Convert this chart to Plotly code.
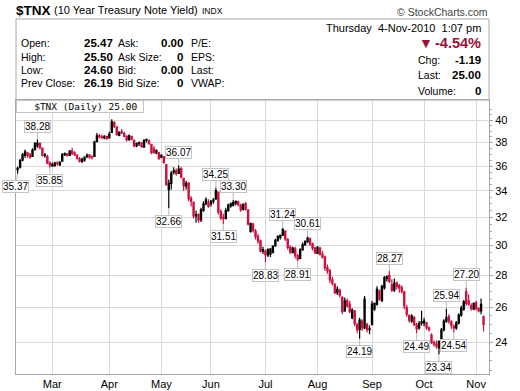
import math
import plotly.graph_objects as go

# ------------------------------------------------------------------ data
months = ["Feb", "Mar", "Apr", "May", "Jun", "Jul", "Aug", "Sep", "Oct", "Nov"]
trading_days = [
    [8, 9, 10, 11, 12, 16, 17, 18, 19, 22, 23, 24, 25, 26],
    [1, 2, 3, 4, 5, 8, 9, 10, 11, 12, 15, 16, 17, 18, 19, 22, 23, 24, 25, 26, 29, 30, 31],
    [1, 5, 6, 7, 8, 9, 12, 13, 14, 15, 16, 19, 20, 21, 22, 23, 26, 27, 28, 29, 30],
    [3, 4, 5, 6, 7, 10, 11, 12, 13, 14, 17, 18, 19, 20, 21, 24, 25, 26, 27, 28],
    [1, 2, 3, 4, 7, 8, 9, 10, 11, 14, 15, 16, 17, 18, 21, 22, 23, 24, 25, 28, 29, 30],
    [1, 2, 6, 7, 8, 9, 12, 13, 14, 15, 16, 19, 20, 21, 22, 23, 26, 27, 28, 29, 30],
    [2, 3, 4, 5, 6, 9, 10, 11, 12, 13, 16, 17, 18, 19, 20, 23, 24, 25, 26, 27, 30, 31],
    [1, 2, 3, 7, 8, 9, 10, 13, 14, 15, 16, 17, 20, 21, 22, 23, 24, 27, 28, 29, 30],
    [1, 4, 5, 6, 7, 8, 11, 12, 13, 14, 15, 18, 19, 20, 21, 22, 25, 26, 27, 28, 29],
    [1, 2, 3, 4],
]

opens = [
    35.70, 35.90, 36.50, 36.90, 37.10, 36.95, 36.80, 37.40, 37.70, 37.90, 37.50, 36.90, 36.80, 36.25,
    36.00, 36.05, 36.25, 36.10, 36.40, 36.95, 37.00, 36.90, 37.25, 37.10, 36.90, 36.60, 36.40, 36.50,
    36.80, 36.95, 36.75, 36.80, 38.10, 38.60, 38.50, 38.40, 38.55,
    38.40, 38.90, 39.80, 39.40, 38.65, 38.95, 38.80, 38.55, 38.25, 38.55, 38.20, 37.70, 37.90, 37.95,
    37.60, 38.20, 38.20, 37.85, 37.45, 37.10, 37.10,
    36.75, 36.80, 36.10, 34.10, 34.60, 35.50, 35.60, 35.40, 35.80, 35.00, 34.40, 34.60, 33.40, 33.10,
    32.10, 32.20, 31.80, 32.50, 33.00, 32.80,
    33.00, 33.20, 33.40, 33.90, 32.40, 32.00, 31.90, 32.50, 32.85, 32.90, 33.05, 33.15, 32.90, 32.60,
    33.00, 32.55, 30.95, 31.50, 31.00, 30.60, 30.30, 29.60,
    29.60, 29.35, 29.40, 29.50, 29.95, 30.35, 30.55, 30.70, 31.00, 30.40, 29.85, 29.50, 29.75, 29.30,
    29.10, 29.70, 30.05, 30.25, 30.45, 30.10, 29.80,
    29.45, 29.80, 29.40, 29.20, 28.50, 28.30, 27.70, 27.40, 26.90, 27.05, 26.60, 25.80, 26.40, 26.20,
    25.40, 25.80, 25.00, 24.70, 25.20, 24.80, 25.00, 24.70,
    25.00, 25.90, 26.20, 27.00, 26.40, 27.20, 27.80, 28.00, 27.40, 27.05, 27.50, 27.35, 27.20, 26.95,
    26.00, 25.50, 25.20, 25.40, 25.00, 24.80, 25.10,
    25.10, 25.10, 24.80, 24.40, 24.00, 23.90, 23.70, 24.10, 24.70, 25.20, 25.45, 25.15, 24.90, 24.80,
    25.10, 25.55, 25.90, 26.95, 26.40, 26.10, 25.90,
    26.30, 25.95, 25.80, 25.47,
]
highs = [
    35.95, 36.60, 37.10, 37.40, 37.20, 37.10, 37.50, 38.05, 38.28, 38.00, 37.60, 37.10, 36.95, 36.40,
    36.30, 36.35, 36.40, 36.40, 37.10, 37.15, 37.10, 37.35, 37.55, 37.25, 37.00, 36.75, 36.70, 36.80,
    37.05, 37.00, 36.90, 38.15, 38.85, 38.75, 38.70, 38.65, 38.60,
    38.95, 40.10, 39.90, 39.45, 39.00, 39.20, 38.95, 38.65, 38.70, 38.60, 38.30, 38.00, 38.10, 38.05,
    38.30, 38.35, 38.25, 37.90, 37.70, 37.40, 37.20,
    37.00, 36.85, 36.20, 34.90, 35.60, 35.90, 35.80, 36.07, 35.90, 35.05, 34.80, 34.70, 33.60, 33.20,
    32.50, 32.30, 32.70, 33.20, 33.50, 33.35,
    33.30, 33.45, 34.25, 33.95, 32.60, 32.25, 32.70, 33.00, 33.10, 33.30, 33.25, 33.25, 33.00, 33.05,
    33.15, 32.60, 31.60, 31.60, 31.15, 30.80, 30.40, 29.90,
    29.70, 29.80, 29.80, 30.00, 30.45, 30.70, 30.75, 31.24, 31.05, 30.50, 30.00, 29.90, 29.90, 29.40,
    29.80, 30.20, 30.35, 30.61, 30.55, 30.20, 29.90,
    29.95, 29.90, 29.60, 29.30, 28.70, 28.40, 27.90, 27.50, 27.30, 27.15, 26.70, 26.60, 26.55, 26.40,
    25.95, 25.85, 25.10, 25.40, 25.30, 26.70, 25.10, 24.95,
    26.40, 26.30, 27.30, 27.10, 27.40, 27.95, 28.00, 28.27, 27.75, 27.80, 27.60, 27.45, 27.35, 27.00,
    26.15, 25.60, 25.60, 25.50, 25.10, 25.20, 25.80,
    25.40, 25.15, 24.90, 24.50, 24.10, 24.10, 24.10, 24.80, 25.30, 25.94, 25.60, 25.25, 25.00, 25.20,
    25.65, 26.10, 26.45, 27.20, 26.80, 26.25, 26.30,
    26.40, 26.00, 26.55, 25.50,
]
lows = [
    35.37, 35.80, 36.40, 36.70, 36.70, 36.60, 36.80, 37.30, 37.55, 37.40, 36.80, 36.70, 36.15, 35.85,
    35.95, 35.95, 36.05, 36.00, 36.35, 36.85, 36.80, 36.85, 36.95, 36.85, 36.55, 36.30, 36.25, 36.35,
    36.65, 36.60, 36.55, 36.75, 38.00, 38.35, 38.30, 38.30, 38.25,
    38.35, 38.85, 39.30, 38.60, 38.55, 38.75, 38.50, 38.10, 38.15, 38.20, 37.60, 37.60, 37.70, 37.55,
    37.55, 38.00, 37.80, 37.00, 37.05, 37.00, 36.55,
    36.65, 36.20, 34.40, 32.66, 34.10, 35.30, 35.20, 35.35, 35.00, 34.00, 34.10, 33.20, 32.80, 31.90,
    31.60, 31.60, 31.65, 32.40, 32.90, 32.70,
    32.80, 33.00, 33.30, 32.20, 31.80, 31.51, 31.85, 32.40, 32.70, 32.80, 32.90, 32.80, 32.40, 32.50,
    32.50, 31.40, 30.90, 30.90, 30.40, 30.10, 29.50, 29.40,
    28.83, 29.20, 29.20, 29.45, 29.90, 30.25, 30.40, 30.65, 30.30, 29.70, 29.40, 29.45, 29.10, 28.91,
    29.05, 29.60, 29.95, 30.15, 29.95, 29.65, 29.40,
    29.40, 29.30, 29.10, 28.30, 28.10, 27.50, 27.35, 26.80, 26.75, 26.60, 25.60, 25.75, 26.00, 25.65,
    25.30, 24.90, 24.50, 24.19, 24.65, 24.75, 24.55, 24.45,
    24.95, 25.80, 26.10, 26.40, 26.35, 27.10, 27.60, 27.50, 26.95, 26.95, 27.10, 26.90, 26.85, 25.90,
    25.45, 25.10, 25.10, 24.90, 24.49, 24.70, 24.95,
    24.90, 24.70, 24.60, 23.90, 23.75, 23.65, 23.34, 24.00, 24.60, 25.10, 25.05, 24.75, 24.54, 24.70,
    25.00, 25.45, 25.80, 26.10, 26.10, 25.80, 25.85,
    25.80, 25.70, 25.60, 24.60,
]
closes = [
    35.80, 36.45, 36.95, 37.20, 36.90, 36.75, 37.35, 37.90, 37.95, 37.55, 36.90, 36.95, 36.25, 36.10,
    36.15, 36.25, 36.20, 36.30, 36.95, 37.05, 36.90, 37.25, 37.05, 36.95, 36.65, 36.40, 36.55, 36.75,
    36.90, 36.75, 36.70, 38.05, 38.60, 38.50, 38.45, 38.55, 38.35,
    38.75, 39.85, 39.45, 38.70, 38.90, 38.85, 38.55, 38.25, 38.60, 38.30, 37.70, 37.90, 38.00, 37.65,
    38.20, 38.25, 37.90, 37.15, 37.10, 37.30, 36.60,
    36.90, 36.30, 34.50, 34.60, 35.40, 35.60, 35.40, 35.75, 35.10, 34.40, 34.60, 33.40, 33.20, 32.10,
    32.20, 31.80, 32.55, 33.00, 33.30, 33.10,
    33.20, 33.30, 34.00, 32.40, 31.95, 31.90, 32.50, 32.90, 33.00, 33.10, 33.20, 32.95, 32.55, 32.95,
    32.60, 31.50, 31.55, 31.05, 30.60, 30.30, 29.60, 29.70,
    29.35, 29.70, 29.75, 29.95, 30.35, 30.60, 30.70, 31.10, 30.45, 29.85, 29.55, 29.80, 29.30, 29.05,
    29.70, 30.05, 30.25, 30.50, 30.10, 29.80, 29.50,
    29.85, 29.40, 29.20, 28.50, 28.30, 27.70, 27.50, 26.90, 27.10, 26.75, 25.75, 26.40, 26.10, 25.75,
    25.85, 25.05, 24.70, 25.25, 24.80, 26.50, 24.70, 24.75,
    26.20, 26.25, 27.10, 26.50, 27.30, 27.85, 27.90, 27.60, 27.05, 27.50, 27.30, 27.20, 27.00, 26.10,
    25.60, 25.25, 25.50, 25.00, 24.75, 25.05, 25.15,
    25.20, 24.80, 24.70, 24.00, 23.90, 23.80, 24.05, 24.70, 25.20, 25.40, 25.20, 24.95, 24.80, 25.10,
    25.55, 25.95, 26.35, 26.25, 26.20, 25.95, 26.25,
    25.95, 25.80, 26.19, 25.00,
]

# annotated highs / lows: (trading-day index, which end of the bar)
label_idx = [0, 8, 13, 61, 65, 80, 83, 87, 100, 107, 113, 117, 138, 150, 161, 170, 173, 176, 181]
label_end = ["low", "high", "low", "low", "high", "high", "low", "high", "low", "high", "low",
             "high", "low", "high", "low", "low", "high", "low", "high"]

y_ticks = [24, 26, 28, 30, 32, 34, 36, 38, 40]

quote_left = [("Open:", "25.47", "Ask:", "0.00", "P/E:"),
              ("High:", "25.50", "Ask Size:", "0", "EPS:"),
              ("Low:", "24.60", "Bid:", "0.00", "Last:"),
              ("Prev Close:", "26.19", "Bid Size:", "0", "VWAP:")]
quote_right = [("Chg:", "-1.19"), ("Last:", "25.00"), ("Volume:", "0")]

# ------------------------------------------------------------------ derived
month_start = []
n = 0
for m, days in enumerate(trading_days):
    month_start.append(n)
    n += len(days)

up_idx = [i for i in range(n - 1) if i == 0 or closes[i] >= closes[i - 1]]
dn_idx = [i for i in range(n - 1) if not (i == 0 or closes[i] >= closes[i - 1])]
last_idx = [n - 1]

RED = "#cc1040"
DARKRED = "#9b1035"
GRID = "#d9d9d9"
FRAME = "#a8a8a8"
FONT = "Arial, Liberation Sans"


def candles(idx, col, fill_up, fill_dn):
    return go.Candlestick(
        x=idx,
        open=[opens[i] for i in idx], high=[highs[i] for i in idx],
        low=[lows[i] for i in idx], close=[closes[i] for i in idx],
        increasing=dict(line=dict(color=col, width=1.2), fillcolor=fill_up),
        decreasing=dict(line=dict(color=col, width=1.2), fillcolor=fill_dn),
        whiskerwidth=0, showlegend=False, hoverinfo="skip",
    )


fig = go.Figure()
fig.add_trace(candles(up_idx, "#000000", "#ffffff", "#000000"))
fig.add_trace(candles(dn_idx, RED, "#ffffff", RED))
fig.add_trace(candles(last_idx, RED, "#ffff00", "#ffff00"))

# pixel -> paper helpers (plot area is 16..489 x 100..374)
PL, PR, PT, PB = 16, 489, 100, 374


def X(px):
    return (px - PL) / (PR - PL)


def Y(py):
    return (PB - py) / (PB - PT)


ann = []


def txt(px, py, s, anchor="left", size=11, bold=False, color="#000000", family=FONT):
    ann.append(dict(xref="paper", yref="paper", x=X(px), y=Y(py), text=("<b>%s</b>" % s) if bold else s,
                    showarrow=False, xanchor=anchor, yanchor="middle", borderpad=0,
                    font=dict(size=size, color=color, family=family)))


# title line
txt(15, 10, "$TNX", size=13.5, bold=True)
txt(53, 10.5, "(10 Year Treasury Note Yield)", size=11)
txt(201, 11, "INDX", size=8.5)
txt(489, 11.5, "\u00a9 StockCharts.com", anchor="right", size=10.5, color="#444444")

# quote box
rows_y = [43.3, 56.7, 70, 83.3]
for (a, b, c_, d, e), yy in zip(quote_left, rows_y):
    txt(20, yy, a, size=10.5)
    txt(114, yy, b, anchor="right", size=11.5, bold=True)
    txt(117, yy, c_, size=10.5)
    txt(184, yy, d, anchor="right", size=11.5, bold=True)
    txt(190, yy, e, size=10.5)

txt(482, 28, "Thursday\u00a0\u00a04-Nov-2010\u00a0\u00a01:07 pm", anchor="right", size=11)
txt(418, 43.5, "\u25bc", size=14, color=DARKRED)
txt(482, 43.5, "-4.54%", anchor="right", size=14.5, bold=True, color=DARKRED)
for (a, b), yy in zip(quote_right, [60, 74.5, 91.5]):
    txt(417, yy, a, size=10.5)
    txt(482, yy, b, anchor="right", size=11.5, bold=True)

# high / low value labels
for i, end in zip(label_idx, label_end):
    v = highs[i] if end == "high" else lows[i]
    ann.append(dict(x=i, y=math.log10(v), xref="x", yref="y",
                    text="%.2f" % v, showarrow=True, arrowhead=0, arrowwidth=1,
                    arrowcolor="#b8b8b8", ax=(-2 if i == 0 else 0), ay=(-13 if end == "high" else 13),
                    bgcolor="#ffffff", bordercolor="#c4c4c4", borderwidth=1, borderpad=0,
                    font=dict(size=10, color="#000000", family=FONT)))

# legend tag in upper-left corner
ann.append(dict(xref="paper", yref="paper", x=X(16), y=Y(100), xanchor="left", yanchor="top",
                text="\u00a0\u00a0\u00a0$TNX (Daily) 25.00\u00a0", showarrow=False,
                bgcolor="#ffffff", bordercolor="#c4c4c4", borderwidth=1, borderpad=0,
                font=dict(size=9.5, family="DejaVu Sans Mono", color="#000000")))

shapes = [
    dict(type="rect", xref="paper", yref="paper", x0=0, x1=1, y0=1, y1=Y(19),
         line=dict(color=FRAME, width=1), fillcolor="rgba(0,0,0,0)", layer="above"),
]
# tiny candle icon of the legend tag
for k, (top, bot) in enumerate([(103.5, 110), (102.5, 109), (104, 110.5)]):
    xx = 20.5 + k * 2.5
    shapes.append(dict(type="line", xref="paper", yref="paper", x0=X(xx), x1=X(xx), y0=Y(top), y1=Y(bot),
                       line=dict(color="#000000", width=1.5), layer="above"))

fig.update_layout(
    width=520, height=391,
    margin=dict(l=PL, r=520 - PR, t=PT, b=391 - PB, autoexpand=False),
    paper_bgcolor="#ffffff", plot_bgcolor="#ffffff",
    font=dict(family=FONT, size=11, color="#000000"),
    showlegend=False, annotations=ann, shapes=shapes,
)
fig.update_xaxes(
    type="linear", range=[-0.65, 190.2], rangeslider=dict(visible=False),
    tickmode="array", tickvals=month_start[1:], ticktext=months[1:],
    showgrid=True, gridcolor=GRID, gridwidth=1, zeroline=False, automargin=False,
    showline=True, linecolor=FRAME, linewidth=1, mirror=True, ticks="",
    tickfont=dict(size=11, color="#000000"),
)
fig.update_yaxes(
    type="log", range=[1.3485, 1.6223], side="right", automargin=False,
    tickmode="array", tickvals=y_ticks, ticktext=[str(t) for t in y_ticks],
    showgrid=True, gridcolor=GRID, gridwidth=1, zeroline=False,
    showline=True, linecolor=FRAME, linewidth=1, mirror=True,
    ticks="outside", ticklen=3, tickcolor=FRAME,
    minor=dict(tickmode="array", tickvals=[v / 2 for v in range(45, 83) if v % 4 != 0],
               ticks="outside", ticklen=2, tickcolor=FRAME, showgrid=False),
    tickfont=dict(size=11, color="#000000"),
)

fig.write_html("out.html", config={"displayModeBar": False},
               post_script="document.body.style.margin='0px';document.body.style.overflow='hidden';")
